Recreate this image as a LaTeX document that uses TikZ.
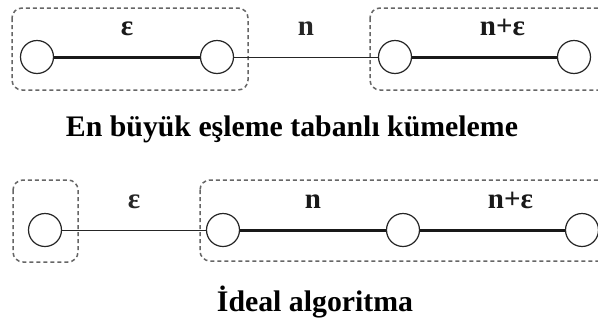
\documentclass[tikz,border=0pt]{standalone}
\usepackage{fontspec}
\setmainfont{Liberation Serif}
\usepackage{tikz}

\tikzset{
  vtx/.style={circle, draw=black!85, line width=1.2pt, fill=white,
    minimum size=33pt, inner sep=0pt},
  heavy/.style={line width=3pt, black!90},
  light/.style={line width=1pt, black!85},
  grp/.style={draw=black!60, line width=1.5pt, dash pattern=on 4pt off 3pt,
    rounded corners=10pt},
  lbl/.style={font=\fontsize{29}{30}\selectfont\bfseries, anchor=base,
    yshift=22pt, inner sep=0pt},
  ttl/.style={font=\fontsize{29.8}{31}\selectfont\bfseries, anchor=base,
    inner sep=0pt}
}

\begin{document}
\begin{tikzpicture}[x=1pt, y=-1pt]

  \newcommand\YA{57}
  \newcommand\YB{230}

  \clip (0,0) rectangle (598,322);
  \useasboundingbox (0,0) rectangle (598,322);

  % top row: greedy matching groups
  \draw[grp] (12,8) rectangle (248,90);
  \draw[grp] (370,8) rectangle (620,90);

  \node[vtx] (a1) at (37,\YA) {};
  \node[vtx] (a2) at (217,\YA) {};
  \node[vtx] (a3) at (395,\YA) {};
  \node[vtx] (a4) at (574,\YA) {};

  \draw[heavy] (a1) -- node[lbl]{ε} (a2);
  \draw[light] (a2) -- node[lbl]{n} (a3);
  \draw[heavy] (a3) -- node[lbl, xshift=18pt]{n+ε} (a4);

  \node[ttl] (t1) at (292,136.5) {En büyük eşleme tabanlı kümeleme};

  % bottom row: the ideal grouping
  \draw[grp] (13,180) rectangle (78,262);
  \draw[grp] (200,180) rectangle (620,261);

  \node[vtx] (b1) at (45,\YB) {};
  \node[vtx] (b2) at (223,\YB) {};
  \node[vtx] (b3) at (403,\YB) {};
  \node[vtx] (b4) at (582,\YB) {};

  \draw[light] (b1) -- node[lbl]{ε} (b2);
  \draw[heavy] (b2) -- node[lbl]{n} (b3);
  \draw[heavy] (b3) -- node[lbl, xshift=18pt]{n+ε} (b4);

  \node[ttl] (t2) at (315,311) {İdeal algoritma};

\end{tikzpicture}
\end{document}
